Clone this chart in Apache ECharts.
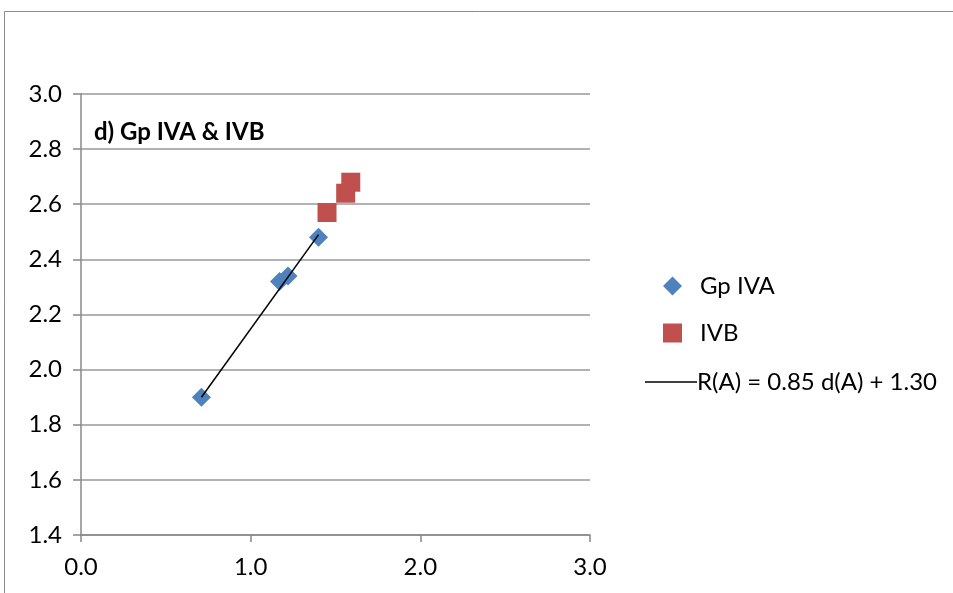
<!DOCTYPE html>
<html>
<head>
<meta charset="utf-8">
<script src="https://cdn.jsdelivr.net/npm/echarts@6/dist/echarts.min.js"></script>
<style>
  html, body { margin: 0; padding: 0; background: #fff; }
  #chart { width: 953px; height: 593px; }
</style>
</head>
<body>
<div id="chart"></div>
<script>
// data
var gpIvaX = [0.71, 1.17, 1.22, 1.40];
var gpIvaY = [1.90, 2.32, 2.34, 2.48];
var ivbX = [1.45, 1.56, 1.59];
var ivbY = [2.57, 2.64, 2.68];
var trendX = [0.71, 1.40];
var trendY = [1.90, 2.49];
var trendName = 'R(A) = 0.85 d(A) + 1.30';

function pairs(xs, ys) {
  var out = [];
  for (var i = 0; i < xs.length; i++) out.push([xs[i], ys[i]]);
  return out;
}

var font = 'Lato, "Open Sans", sans-serif';
var myChart = echarts.init(document.getElementById('chart'));

var option = {
  animation: false,
  backgroundColor: '#fff',
  textStyle: { fontFamily: font },
  graphic: [{
    type: 'rect',
    shape: { x: 4.5, y: 11.5, width: 1200, height: 1200 },
    style: { fill: 'none', stroke: '#8c8c8c', lineWidth: 1 },
    silent: true
  }],
  title: {
    text: 'd) Gp IVA & IVB',
    left: 89,
    top: 115,
    textStyle: { fontFamily: font, fontWeight: 'bold', fontSize: 24, color: '#000' }
  },
  grid: { left: 81, right: 363, top: 94, bottom: 58 },
  legend: [{
    orient: 'vertical',
    left: 658,
    top: 269,
    itemWidth: 19,
    itemHeight: 19,
    itemGap: 23,
    data: [
      { name: 'Gp IVA', icon: 'diamond' },
      { name: 'IVB', icon: 'rect' }
    ],
    textStyle: { fontFamily: font, fontSize: 24, color: '#000', padding: [0, 0, 0, 13] }
  }, {
    orient: 'vertical',
    left: 640,
    top: 365,
    itemWidth: 52,
    itemHeight: 1.5,
    data: [{ name: trendName, icon: 'rect' }],
    textStyle: { fontFamily: font, fontSize: 24, color: '#000', padding: [0, 0, 0, -5] }
  }],
  xAxis: {
    type: 'value',
    min: 0,
    max: 3,
    interval: 1,
    axisLine: { show: true, lineStyle: { color: '#888', width: 1.5 } },
    axisTick: { show: true, length: 7, lineStyle: { color: '#888', width: 1.5 } },
    splitLine: { show: false },
    axisLabel: {
      fontFamily: font, fontSize: 24, color: '#000', margin: 20,
      formatter: function (v) { return v.toFixed(1); }
    }
  },
  yAxis: {
    type: 'value',
    min: 1.4,
    max: 3.0,
    interval: 0.2,
    axisLine: { show: true, lineStyle: { color: '#888', width: 1.5 } },
    axisTick: { show: true, length: 8, lineStyle: { color: '#888', width: 1.5 } },
    splitLine: { show: true, lineStyle: { color: '#999', width: 1.5 } },
    axisLabel: {
      fontFamily: font, fontSize: 24, color: '#000', margin: 19,
      formatter: function (v) { return v.toFixed(1); }
    }
  },
  series: [
    {
      name: 'Gp IVA',
      type: 'scatter',
      symbol: 'diamond',
      symbolSize: 19,
      itemStyle: { color: '#4F81BD', opacity: 1 },
      data: pairs(gpIvaX, gpIvaY),
      z: 3
    },
    {
      name: 'IVB',
      type: 'scatter',
      symbol: 'rect',
      symbolSize: 19,
      itemStyle: { color: '#C0504D', opacity: 1 },
      data: pairs(ivbX, ivbY),
      z: 3
    },
    {
      name: trendName,
      type: 'line',
      symbol: 'none',
      lineStyle: { color: '#000', width: 1.5 },
      itemStyle: { color: '#000' },
      data: pairs(trendX, trendY),
      z: 4
    }
  ]
};
myChart.setOption(option);
</script>
</body>
</html>
